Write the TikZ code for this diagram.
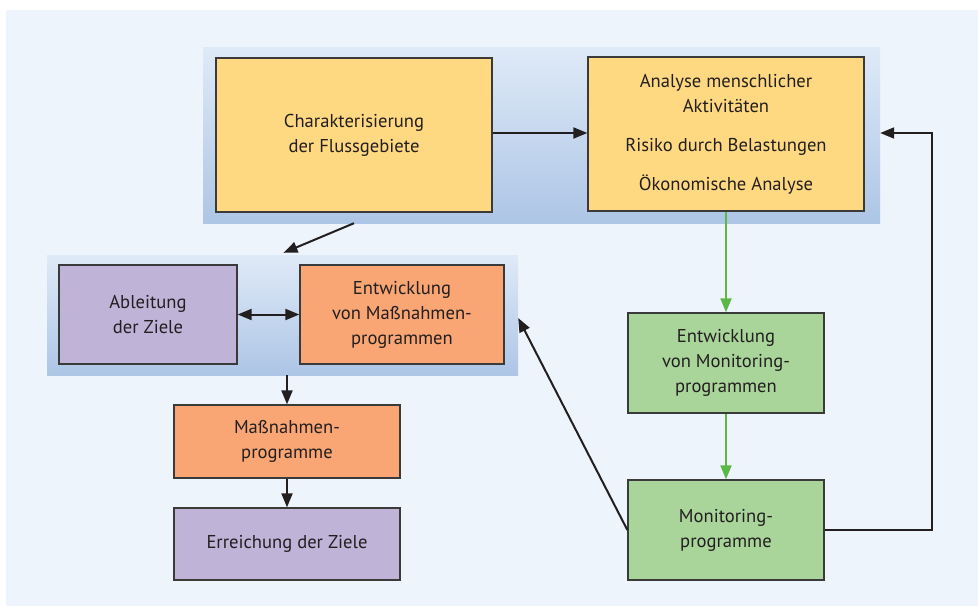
\documentclass[tikz,border=0pt]{standalone}
\usepackage{fontspec}
\setmainfont{PT Sans}
\usetikzlibrary{arrows.meta,calc}
\definecolor{bgc}{HTML}{EDF4FB}
\definecolor{bandtop}{HTML}{DFEAF7}
\definecolor{bandbot}{HTML}{ADC5E6}
\definecolor{yel}{HTML}{FFD981}
\definecolor{ora}{HTML}{F9A674}
\definecolor{pur}{HTML}{BFB3D8}
\definecolor{gre}{HTML}{A9D59B}
\definecolor{grearr}{HTML}{5AB946}
\definecolor{ink}{HTML}{231F20}
\definecolor{edge}{HTML}{3A3A3A}
\begin{document}
\begin{tikzpicture}[x=1pt,y=-1pt,
  band/.style={top color=bandtop,bottom color=bandbot,draw=none,inner sep=0pt},
  box/.style={draw=edge,line width=1.3pt,align=center,inner sep=0pt,text=ink,
    font=\fontsize{18.6}{25}\selectfont},
  tip/.style={},
  arr/.style={draw=ink,line width=2pt,-{Triangle[length=14pt,width=11pt]}},
  darr/.style={draw=ink,line width=2pt,{Triangle[length=14pt,width=11pt]}-{Triangle[length=14pt,width=11pt]}},
  garr/.style={draw=grearr,line width=2pt,-{Triangle[length=14pt,width=11pt]}}]
\useasboundingbox (0,0) rectangle (978,606);
\fill[bgc] (6,10) rectangle (978,606);
% bands
\node[band,minimum width=677pt,minimum height=176pt] (tb) at (541.5,135) {};
\node[band,minimum width=471pt,minimum height=120pt] (lb) at (282.5,315) {};
% boxes
\node[box,fill=yel,minimum width=276pt,minimum height=154pt] (char) at (354,135)
  {Charakterisierung\\der Flussgebiete};
\node[box,fill=yel,minimum width=276pt,minimum height=154pt] (ana) at (726,134)
  {Analyse menschlicher\\Aktivitäten\\[14pt]Risiko durch Belastungen\\[14pt]Ökonomische Analyse};
\node[box,fill=pur,minimum width=178pt,minimum height=99pt] (abl) at (148,314.5)
  {Ableitung\\der Ziele};
\node[box,fill=ora,minimum width=204pt,minimum height=99pt] (entm) at (402,314.5)
  {Entwicklung\\von Maßnahmen-\\programmen};
\node[box,fill=ora,minimum width=226pt,minimum height=73pt] (mp) at (287,441.5)
  {Maßnahmen-\\programme};
\node[box,fill=pur,minimum width=226pt,minimum height=72pt] (err) at (287,544)
  {Erreichung der Ziele};
\node[box,fill=gre,minimum width=196pt,minimum height=100pt] (entmon) at (726,363)
  {Entwicklung\\von Monitoring-\\programmen};
\node[box,fill=gre,minimum width=196pt,minimum height=100pt] (mon) at (726,530)
  {Monitoring-\\programme};
\coordinate (lp) at (932,133);
% connectors
\draw[arr] ($(char.east)+(0,-2)$) -- ($(ana.west)+(0,-1)$);
\draw[arr] (char.south |- tb.south) -- ($(lb.north)+(1,-2)$);
\draw[darr] (abl.east) -- (entm.west);
\draw[arr] (mp.north |- lb.south) -- (mp.north);
\draw[arr] (mp.south) -- (err.north);
\draw[garr] (ana.south) -- (entmon.north);
\draw[garr] (entmon.south) -- (mon.north);
\draw[arr] (mon.west) -- ($(lb.east)+(0,3)$);
\draw[arr] (mon.east) -| (lp) -- (lp -| tb.east);
\end{tikzpicture}
\end{document}
